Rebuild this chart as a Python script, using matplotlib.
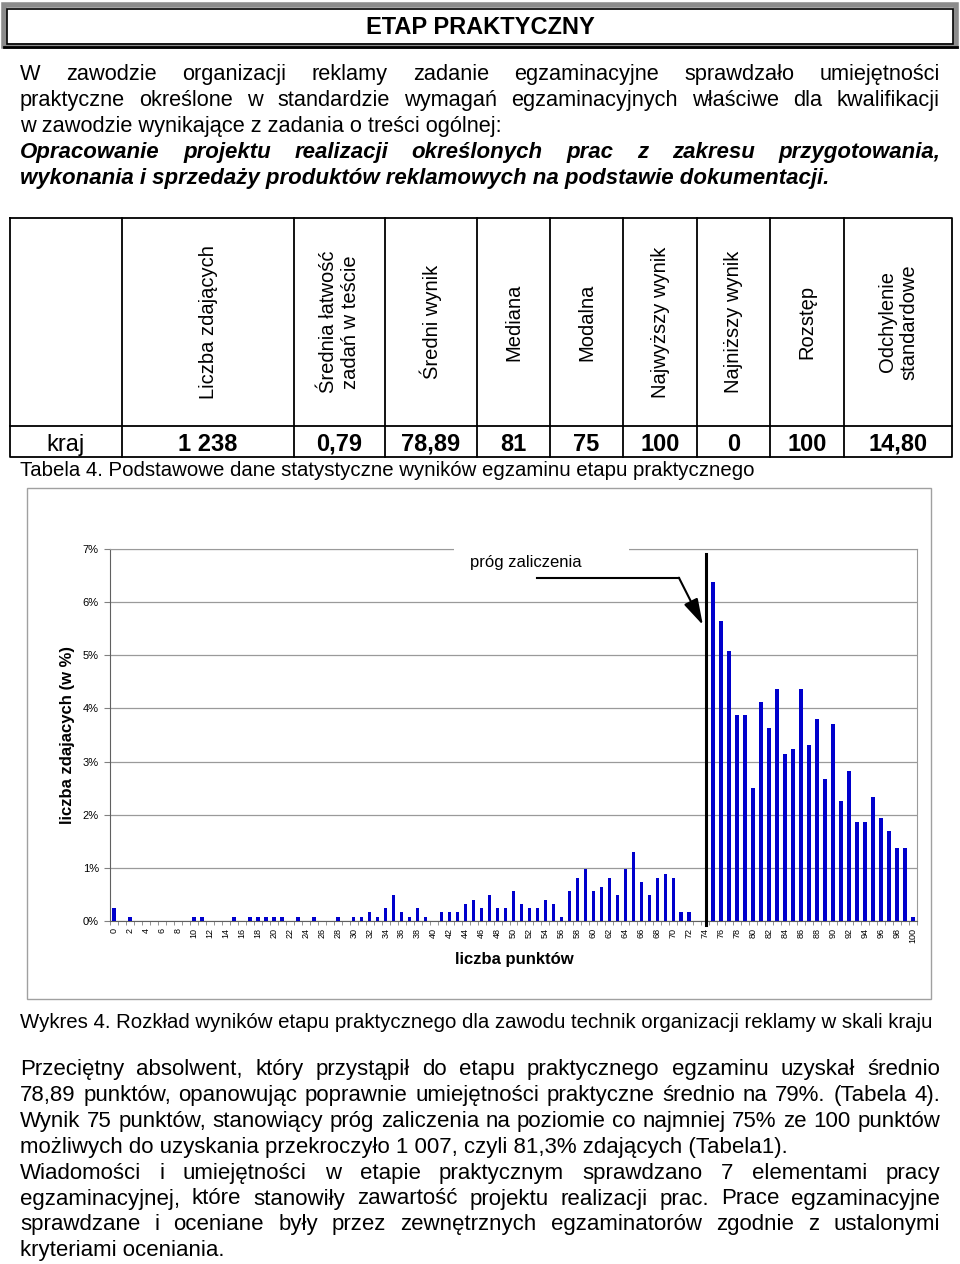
import matplotlib
matplotlib.use('Agg')
import matplotlib.pyplot as plt
from matplotlib.patches import Rectangle
import numpy as np

plt.rcParams['font.family'] = ['Liberation Sans', 'DejaVu Sans']

# dane wykresu: liczba zdajacych dla kazdej liczby punktow 0..100
punkty = list(range(0, 101))
liczba = [3, 0, 1, 0, 0, 0, 0, 0, 0, 0,
          1, 1, 0, 0, 0, 1, 0, 1, 1, 1,
          1, 1, 0, 1, 0, 1, 0, 0, 1, 0,
          1, 1, 2, 1, 3, 6, 2, 1, 3, 1,
          0, 2, 2, 2, 4, 5, 3, 6, 3, 3,
          7, 4, 3, 3, 5, 4, 1, 7, 10, 12,
          7, 8, 10, 6, 12, 16, 9, 6, 10, 11,
          10, 2, 2, 0, 0, 79, 70, 63, 48, 48,
          31, 51, 45, 54, 39, 40, 54, 41, 47, 33,
          46, 28, 35, 23, 23, 29, 24, 21, 17, 17,
          1]
zdajacy = 1238
procent = [n / zdajacy * 100 for n in liczba]
prog_linia = 74.1

# tabela 4
naglowki = ['Liczba zdających', 'Średnia łatwość\nzadań w teście', 'Średni wynik',
            'Mediana', 'Modalna', 'Najwyższy wynik', 'Najniższy wynik',
            'Rozstęp', 'Odchylenie\nstandardowe']
wartosci = ['1 238', '0,79', '78,89', '81', '75', '100', '0', '100', '14,80']

akapit_gora = [
    ('W zawodzie organizacji reklamy zadanie egzaminacyjne sprawdzało umiejętności', True, 'normal'),
    ('praktyczne określone w standardzie wymagań egzaminacyjnych właściwe dla kwalifikacji', True, 'normal'),
    ('w zawodzie wynikające z zadania o treści ogólnej:', False, 'normal'),
    ('Opracowanie projektu realizacji określonych prac z zakresu przygotowania,', True, 'bi'),
    ('wykonania i sprzedaży produktów reklamowych na podstawie dokumentacji.', False, 'bi'),
]
akapit_dol = [
    ('Przeciętny absolwent, który przystąpił do etapu praktycznego egzaminu uzyskał średnio', True),
    ('78,89 punktów, opanowując poprawnie umiejętności praktyczne średnio na 79%. (Tabela 4).', True),
    ('Wynik 75 punktów, stanowiący próg zaliczenia na poziomie co najmniej 75% ze 100 punktów', True),
    ('możliwych do uzyskania przekroczyło 1 007, czyli 81,3% zdających (Tabela1).', False),
    ('Wiadomości i umiejętności w etapie praktycznym sprawdzano 7 elementami pracy', True),
    ('egzaminacyjnej, które stanowiły zawartość projektu realizacji prac. Prace egzaminacyjne', True),
    ('sprawdzane i oceniane były przez zewnętrznych egzaminatorów zgodnie z ustalonymi', True),
    ('kryteriami oceniania.', False),
]

fig = plt.figure(figsize=(9.6, 12.64), dpi=100)
bg = fig.add_axes([0, 0, 1, 1], zorder=0)
bg.set_xlim(0, 960)
bg.set_ylim(1264, 0)
bg.axis('off')
r = fig.canvas.get_renderer()


def linia(y, txt, justuj, x0=20, x1=940, **kw):
    if not justuj:
        bg.text(x0, y, txt, ha='left', va='baseline', **kw)
        return
    slowa = txt.split(' ')
    teksty = [bg.text(0, y, s, ha='left', va='baseline', **kw) for s in slowa]
    szer = [t.get_window_extent(r).width for t in teksty]
    odstep = (x1 - x0 - sum(szer)) / (len(slowa) - 1)
    x = x0
    for t, w in zip(teksty, szer):
        t.set_x(x)
        x += w + odstep


# naglowek
bg.add_patch(Rectangle((4, 5), 952, 41, fill=False, ec='#8c8c8c', lw=4))
bg.add_patch(Rectangle((7, 9), 946, 35, fill=False, ec='black', lw=1.2))
bg.plot([4, 957], [47, 47], color='black', lw=2)
bg.text(480, 27, 'ETAP PRAKTYCZNY', ha='center', va='center', fontsize=17, fontweight='bold')

# akapit gorny
for i, (txt, j, st) in enumerate(akapit_gora):
    kw = dict(fontsize=15.7)
    if st == 'bi':
        kw.update(fontsize=16, fontweight='bold', style='italic')
    linia(80 + 26 * i, txt, j, **kw)

# tabela
kol = [10, 122, 294, 385, 477, 550, 623, 697, 770, 844, 952]
t_gora, t_srodek, t_dol = 218, 426, 457
bg.plot([kol[0], kol[-1], kol[-1], kol[0], kol[0]], [t_gora, t_gora, t_dol, t_dol, t_gora],
        color='black', lw=1.3)
bg.plot([kol[0], kol[-1]], [t_srodek, t_srodek], color='black', lw=1.3)
for x in kol[1:-1]:
    bg.plot([x, x], [t_gora, t_dol], color='black', lw=1.3)
for i, (h, v) in enumerate(zip(naglowki, wartosci)):
    xc = (kol[i + 1] + kol[i + 2]) / 2
    bg.text(xc, (t_gora + t_srodek) / 2, h, rotation=90, ha='center', va='center',
            multialignment='center', fontsize=14.5)
    bg.text(xc, 451, v, ha='center', va='baseline', fontsize=17, fontweight='bold')
bg.text((kol[0] + kol[1]) / 2, 451, 'kraj', ha='center', va='baseline', fontsize=17)
bg.text(20, 476, 'Tabela 4. Podstawowe dane statystyczne wyników egzaminu etapu praktycznego',
        ha='left', va='baseline', fontsize=14.7)

# ramka wykresu
bg.add_patch(Rectangle((27, 488), 904, 511, fill=False, ec='#a0a0a0', lw=1))

ax = fig.add_axes([110 / 960, 1 - 921 / 1264, 807 / 960, 372 / 1264], zorder=1)
ax.bar(punkty, procent, width=0.45, color='#0000cc', zorder=3)
ax.set_xlim(-0.5, 100.5)
ax.set_ylim(0, 7)
ax.set_yticks(range(0, 8))
ax.set_yticklabels([f'{v}%' for v in range(0, 8)], fontsize=8)
ax.set_xticks(punkty[::2])
ax.set_xticklabels([str(p) for p in punkty[::2]], rotation=90, fontsize=6.5)
ax.set_xticks(np.arange(-0.5, 101, 1), minor=True)
ax.tick_params(axis='x', which='major', length=0, pad=5)
ax.tick_params(axis='x', which='minor', length=3, color='#808080')
ax.tick_params(axis='y', length=4, color='#808080', pad=4)
ax.yaxis.grid(True, color='#9a9a9a', lw=0.9)
ax.set_axisbelow(True)
for s in ['top', 'right']:
    ax.spines[s].set_color('#9a9a9a')
for s in ['left', 'bottom']:
    ax.spines[s].set_color('#606060')
ax.set_ylabel('liczba zdajacych (w %)', fontsize=12, fontweight='bold')
ax.yaxis.set_label_coords(-0.043, 0.5)
ax.set_xlabel('liczba punktów', fontsize=12, fontweight='bold')
ax.xaxis.set_label_coords(0.501, -0.083)

# prog zaliczenia
ax.add_patch(Rectangle((42.55, 6.8), 21.9, 0.35, fc='white', ec='none', zorder=5, clip_on=False))
ax.text(44.6, 6.74, 'próg zaliczenia', fontsize=12, ha='left', va='center', zorder=6)
ax.plot([52.9, 70.7], [6.46, 6.46], color='black', lw=1.5, zorder=6)
ax.annotate('', xy=(73.7, 5.57), xytext=(70.7, 6.46),
            arrowprops=dict(arrowstyle='-|>,head_length=0.8,head_width=0.23',
                            mutation_scale=20, color='black', lw=1.5,
                            shrinkA=0, shrinkB=0), zorder=6)
ax.plot([prog_linia, prog_linia], [-0.08, 6.91], color='black', lw=2.2, zorder=6, clip_on=False)

# podpis i akapit dolny
bg.text(20, 1028, 'Wykres 4. Rozkład wyników etapu praktycznego dla zawodu technik organizacji reklamy w skali kraju',
        ha='left', va='baseline', fontsize=14.7)
for i, (txt, j) in enumerate(akapit_dol):
    linia(1075 + 25.9 * i, txt, j, fontsize=16)

fig.savefig('out.png', dpi=100)
